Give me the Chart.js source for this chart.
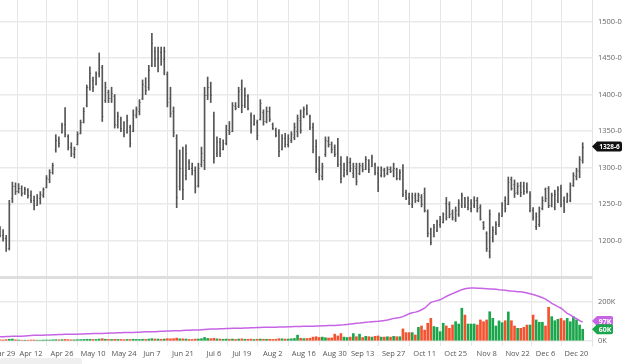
<!DOCTYPE html>
<html>
<head>
<meta charset="utf-8">
<script src="https://cdn.jsdelivr.net/npm/chart.js@4.4.0/dist/chart.umd.min.js"></script>
<style>
html, body { margin: 0; padding: 0; background: #fff; }
</style>
</head>
<body>
<canvas id="chart" width="624" height="364"></canvas>
<script>
// daily bars from Mar 26 2021, one value per trading day
var highs = [
  1219,1215,1207,1255,1280,1279,1278,1275,1273,1271,
  1268,1261,1263,1267,1272,1289,1297,1306,1345,1342,
  1361,1382,1345,1334,1328,1349,1365,1382,1413,1438,
  1424,1431,1457,1440,1417,1406,1410,1400,1376,1369,
  1363,1372,1358,1379,1383,1393,1420,1423,1440,1484,
  1465,1465,1465,1465,1431,1410,1383,1345,1324,1328,
  1331,1311,1306,1301,1306,1328,1410,1424,1417,1376,
  1342,1340,1338,1358,1363,1389,1389,1410,1420,1409,
  1400,1375,1372,1365,1393,1379,1383,1383,1361,1354,
  1352,1345,1347,1345,1349,1361,1372,1379,1383,1386,
  1372,1361,1338,1315,1306,1342,1342,1335,1331,1340,
  1315,1306,1315,1313,1306,1306,1306,1306,1315,1311,
  1317,1306,1301,1301,1299,1301,1301,1306,1299,1297,
  1304,1269,1265,1265,1265,1265,1263,1272,1242,1217,
  1222,1228,1233,1238,1259,1253,1242,1246,1256,1265,
  1259,1260,1256,1260,1259,1249,1226,1212,1242,1219,
  1226,1238,1252,1260,1287,1287,1283,1279,1280,1280,
  1279,1267,1245,1238,1246,1260,1272,1274,1265,1269,
  1274,1276,1260,1265,1279,1293,1299,1315,1334
];
var lows = [
  1205,1199,1185,1187,1252,1263,1265,1261,1263,1258,
  1252,1242,1248,1250,1259,1272,1279,1291,1321,1328,
  1347,1342,1324,1315,1313,1331,1346,1361,1383,1406,
  1404,1413,1424,1363,1389,1389,1389,1354,1354,1349,
  1342,1347,1328,1349,1368,1372,1393,1400,1406,1438,
  1438,1431,1440,1427,1383,1369,1342,1245,1269,1256,
  1283,1297,1290,1265,1273,1301,1297,1393,1389,1306,
  1315,1315,1324,1331,1345,1349,1379,1382,1375,1382,
  1379,1347,1358,1338,1365,1358,1361,1363,1352,1342,
  1315,1324,1328,1328,1334,1338,1342,1347,1368,1372,
  1352,1320,1293,1283,1283,1315,1328,1320,1315,1301,
  1279,1287,1290,1294,1286,1276,1290,1294,1297,1293,
  1301,1290,1267,1287,1287,1290,1293,1287,1283,1283,
  1260,1256,1249,1245,1252,1253,1246,1239,1205,1194,
  1205,1212,1218,1224,1228,1231,1228,1226,1233,1245,
  1245,1242,1239,1245,1239,1228,1215,1185,1176,1198,
  1208,1219,1233,1239,1249,1269,1259,1263,1260,1263,
  1265,1239,1228,1215,1219,1242,1253,1245,1246,1242,
  1252,1246,1238,1252,1253,1274,1283,1286,1306
];
var opens = [
  1217,1208,1204,1190,1258,1275,1268,1272,1266,1269,
  1262,1256,1249,1258,1263,1273,1284,1294,1325,1337,
  1348,1360,1343,1328,1318,1332,1347,1363,1385,1410,
  1420,1414,1430,1438,1392,1404,1395,1398,1358,1366,
  1352,1348,1355,1350,1372,1378,1395,1412,1410,1440,
  1460,1450,1458,1448,1428,1395,1378,1340,1275,1300,
  1290,1308,1300,1296,1276,1305,1310,1400,1410,1370,
  1320,1335,1325,1334,1352,1350,1384,1384,1408,1386,
  1398,1372,1360,1362,1366,1376,1364,1378,1360,1352,
  1348,1326,1340,1332,1338,1342,1350,1365,1370,1382,
  1370,1356,1330,1298,1288,1318,1336,1332,1328,1320,
  1305,1290,1296,1308,1292,1300,1292,1302,1298,1310,
  1302,1305,1292,1290,1296,1292,1298,1296,1298,1286,
  1296,1266,1260,1250,1262,1255,1260,1265,1240,1210,
  1206,1215,1222,1226,1252,1250,1238,1230,1236,1248,
  1258,1246,1244,1248,1256,1246,1225,1210,1185,1205,
  1212,1222,1234,1255,1250,1284,1278,1266,1276,1275,
  1272,1242,1242,1220,1222,1244,1270,1272,1248,1246,
  1256,1272,1256,1254,1256,1276,1288,1295,1310
];
var closes = [
  1208,1204,1190,1250,1274,1268,1272,1265,1270,1262,
  1256,1248,1259,1264,1270,1286,1294,1303,1338,1333,
  1358,1346,1328,1320,1325,1346,1362,1378,1410,1430,
  1410,1428,1448,1370,1410,1395,1402,1360,1370,1354,
  1346,1365,1333,1374,1380,1390,1415,1406,1434,1470,
  1448,1460,1446,1460,1390,1375,1348,1260,1300,1270,
  1320,1300,1296,1275,1300,1320,1400,1410,1400,1315,
  1335,1320,1334,1352,1348,1385,1382,1405,1385,1400,
  1382,1352,1366,1345,1388,1364,1378,1366,1354,1345,
  1322,1340,1332,1340,1346,1356,1368,1352,1380,1375,
  1355,1325,1300,1290,1302,1338,1332,1325,1318,1305,
  1285,1298,1308,1300,1302,1282,1303,1298,1312,1298,
  1314,1294,1272,1298,1290,1298,1295,1300,1286,1294,
  1264,1258,1252,1260,1255,1262,1250,1242,1210,1198,
  1218,1225,1230,1236,1232,1236,1232,1242,1252,1262,
  1248,1256,1252,1256,1244,1230,1218,1190,1236,1215,
  1222,1235,1248,1244,1280,1272,1265,1275,1266,1268,
  1268,1262,1232,1234,1240,1256,1258,1248,1262,1264,
  1270,1250,1242,1262,1276,1290,1296,1312,1328.75
];
// volume and open interest, thousands of contracts
var volume = [
  6,5,7,9,10,6,5,4,4,4,
  5,5,4,4,5,5,5,6,7,6,
  7,8,7,6,6,7,7,8,9,9,
  8,8,10,12,9,8,8,9,8,8,
  7,8,8,9,8,8,9,8,10,12,
  10,10,9,10,12,11,12,15,11,11,
  10,8,8,10,10,12,18,13,12,14,
  11,10,9,10,9,10,8,10,11,9,
  9,10,8,9,10,9,9,9,8,9,
  12,11,10,10,11,13,30,14,12,13,
  14,20,22,18,20,17,15,16,35,26,
  38,20,18,20,38,22,35,18,24,22,
  20,24,26,20,20,22,20,24,22,22,
  62,43,43,43,31,70,77,56,91,116,
  74,70,48,91,77,65,82,99,87,168,
  133,87,87,87,82,108,99,108,150,116,
  77,103,94,104,149,104,77,65,65,70,
  82,82,133,108,96,96,77,173,125,104,
  111,116,104,116,99,125,108,82,60
];
var openInt = [
  22,22,23,23,24,24,25,25,26,27,
  28,29,29,30,30,31,31,32,32,33,
  33,34,34,35,35,35,36,36,37,37,
  38,38,39,39,40,40,41,41,42,42,
  43,43,44,44,45,45,46,47,47,48,
  48,49,50,50,51,51,52,53,53,54,
  55,55,56,57,57,58,59,60,61,62,
  62,63,63,64,64,65,65,66,66,67,
  67,68,68,69,69,70,70,71,71,71,
  72,72,72,73,73,74,74,74,75,75,
  76,76,77,77,78,78,79,79,80,81,
  82,83,85,87,89,91,92,94,96,97,
  99,100,101,103,105,108,112,116,118,120,
  125,132,140,145,148,152,160,168,183,198,
  203,207,211,220,228,236,243,250,256,263,
  268,270,271,271,270,270,269,268,267,266,
  265,263,262,260,258,256,255,253,252,250,
  246,242,238,233,228,222,215,205,193,185,
  176,168,155,142,134,122,114,104,97
];
var holidays = ['2021-04-02', '2021-05-31', '2021-07-05', '2021-09-06', '2021-11-25', '2021-12-24'];
var tickDates = ['Mar 29', 'Apr 12', 'Apr 26', 'May 10', 'May 24', 'Jun 7', 'Jun 21', 'Jul 6', 'Jul 19',
  'Aug 2', 'Aug 16', 'Aug 30', 'Sep 13', 'Sep 27', 'Oct 11', 'Oct 25', 'Nov 8', 'Nov 22', 'Dec 6', 'Dec 20'];
var priceTicks = [1150, 1200, 1250, 1300, 1350, 1400, 1450, 1500];
var volTicks = [0, 200];

// trading-day labels (the last few slots are empty space on the right)
var months = ['Jan','Feb','Mar','Apr','May','Jun','Jul','Aug','Sep','Oct','Nov','Dec'];
var dates = [];
var d = new Date(Date.UTC(2021, 2, 26));
while (dates.length < 192) {
  var iso = d.toISOString().slice(0, 10);
  var wd = d.getUTCDay();
  if (wd !== 0 && wd !== 6 && holidays.indexOf(iso) < 0) {
    dates.push(months[d.getUTCMonth()] + ' ' + d.getUTCDate());
  }
  d = new Date(d.getTime() + 86400000);
}

function fmtPrice(v) {
  var whole = Math.floor(v);
  return whole + '-' + Math.round((v - whole) * 8);
}

var GREEN = '#1ba64c';
var RED = '#f4532f';
var PURPLE = '#c764e6';
var BAR = '#555555';
var tickFont = { family: 'Open Sans', size: 7.5 };

var ranges = lows.map(function(l, i) { return [l, highs[i]]; });
var volColors = closes.map(function(c, i) { return c >= opens[i] ? GREEN : RED; });

// open (left) and close (right) ticks on each bar
var ohlcTicks = {
  id: 'ohlcTicks',
  afterDatasetsDraw: function(chart) {
    var xs = chart.scales.x, ys = chart.scales.price, ctx = chart.ctx;
    ctx.save();
    ctx.strokeStyle = BAR;
    ctx.lineWidth = 1;
    ctx.beginPath();
    for (var i = 0; i < closes.length; i++) {
      var px = xs.getPixelForValue(i);
      var yo = Math.round(ys.getPixelForValue(opens[i])) + 0.5;
      var yc = Math.round(ys.getPixelForValue(closes[i])) + 0.5;
      ctx.moveTo(px - 1, yo); ctx.lineTo(px, yo);
      ctx.moveTo(px, yc); ctx.lineTo(px + 1, yc);
    }
    ctx.stroke();
    ctx.restore();
  }
};

function badge(ctx, x, y, w, text, bg, size) {
  var h = 10;
  ctx.fillStyle = bg;
  ctx.beginPath();
  ctx.moveTo(x, y);
  ctx.lineTo(x + 5, y - h / 2);
  ctx.lineTo(x + w - 2, y - h / 2);
  ctx.quadraticCurveTo(x + w, y - h / 2, x + w, y - h / 2 + 2);
  ctx.lineTo(x + w, y + h / 2 - 2);
  ctx.quadraticCurveTo(x + w, y + h / 2, x + w - 2, y + h / 2);
  ctx.lineTo(x + 5, y + h / 2);
  ctx.closePath();
  ctx.fill();
  ctx.fillStyle = '#fff';
  ctx.font = 'bold ' + size + 'px "Open Sans"';
  ctx.textBaseline = 'middle';
  ctx.textAlign = 'center';
  ctx.fillText(text, x + 2.5 + w / 2, y + 0.5);
}

var lastLabels = {
  id: 'lastLabels',
  afterDraw: function(chart) {
    var ctx = chart.ctx, ps = chart.scales.price, vs = chart.scales.vol;
    var n = closes.length - 1;
    ctx.save();
    badge(ctx, 592, vs.getPixelForValue(openInt[n] * 1000) - 1, 21, openInt[n] + 'K', PURPLE, 7);
    badge(ctx, 592, vs.getPixelForValue(volume[n] * 1000), 21, volume[n] + 'K', GREEN, 7);
    badge(ctx, 592, ps.getPixelForValue(closes[n]), 30, fmtPrice(closes[n]), '#111', 6.5);
    // scroll handle under the axis
    ctx.fillStyle = '#efefef';
    ctx.beginPath();
    ctx.roundRect(0, 358, 82, 10, 3);
    ctx.fill();
    ctx.restore();
  }
};

new Chart(document.getElementById('chart'), {
  type: 'bar',
  data: {
    labels: dates,
    datasets: [
      {
        type: 'line',
        data: openInt.map(function(v) { return v * 1000; }),
        yAxisID: 'vol',
        borderColor: PURPLE,
        borderWidth: 1.5,
        pointRadius: 0,
        order: 0
      },
      {
        data: ranges,
        yAxisID: 'price',
        backgroundColor: BAR,
        barThickness: 1,
        grouped: false,
        order: 1
      },
      {
        data: volume.map(function(v) { return v * 1000; }),
        yAxisID: 'vol',
        backgroundColor: volColors,
        barThickness: 2,
        grouped: false,
        order: 2
      }
    ]
  },
  options: {
    responsive: false,
    animation: false,
    devicePixelRatio: 1,
    layout: { padding: 0 },
    plugins: { legend: { display: false }, tooltip: { enabled: false } },
    scales: {
      x: {
        type: 'category',
        offset: false,
        grid: { color: '#e6e6e6', drawTicks: false },
        border: { display: false },
        ticks: { autoSkip: false, maxRotation: 0, padding: 3, font: tickFont, color: '#555' },
        afterBuildTicks: function(s) {
          s.ticks = s.ticks.filter(function(t) { return tickDates.indexOf(dates[t.value]) >= 0; });
        },
        afterFit: function(s) { s.height = 18; s.paddingLeft = 0; s.paddingRight = 0; }
      },
      price: {
        position: 'right',
        stack: 'main',
        stackWeight: 277,
        min: 1150,
        max: 1529.5,
        grid: {
          drawTicks: false,
          color: function(c) { return c.tick && c.tick.value === 1150 ? '#dedede' : '#eaeaea'; },
          lineWidth: function(c) { return c.tick && c.tick.value === 1150 ? 3 : 1.5; }
        },
        border: { display: true, color: '#e3e3e3' },
        ticks: {
          padding: 6, font: tickFont, color: '#666',
          callback: function(v) { return v === 1150 ? '' : fmtPrice(v); }
        },
        afterBuildTicks: function(s) {
          s.ticks = priceTicks.map(function(v) { return { value: v }; });
        },
        afterFit: function(s) { s.width = 32; s.paddingTop = 0; s.paddingBottom = 0; }
      },
      vol: {
        position: 'right',
        stack: 'main',
        stackWeight: 69,
        min: -25600,
        max: 328000,
        grid: { drawTicks: false, color: '#eaeaea', lineWidth: 1.5 },
        border: { display: true, color: '#e3e3e3' },
        ticks: {
          padding: 6, font: tickFont, color: '#666',
          callback: function(v) { return (v / 1000) + 'K'; }
        },
        afterBuildTicks: function(s) {
          s.ticks = volTicks.map(function(v) { return { value: v * 1000 }; });
        },
        afterFit: function(s) { s.width = 32; s.paddingTop = 0; s.paddingBottom = 0; }
      }
    }
  },
  plugins: [ohlcTicks, lastLabels]
});
</script>
</body>
</html>
